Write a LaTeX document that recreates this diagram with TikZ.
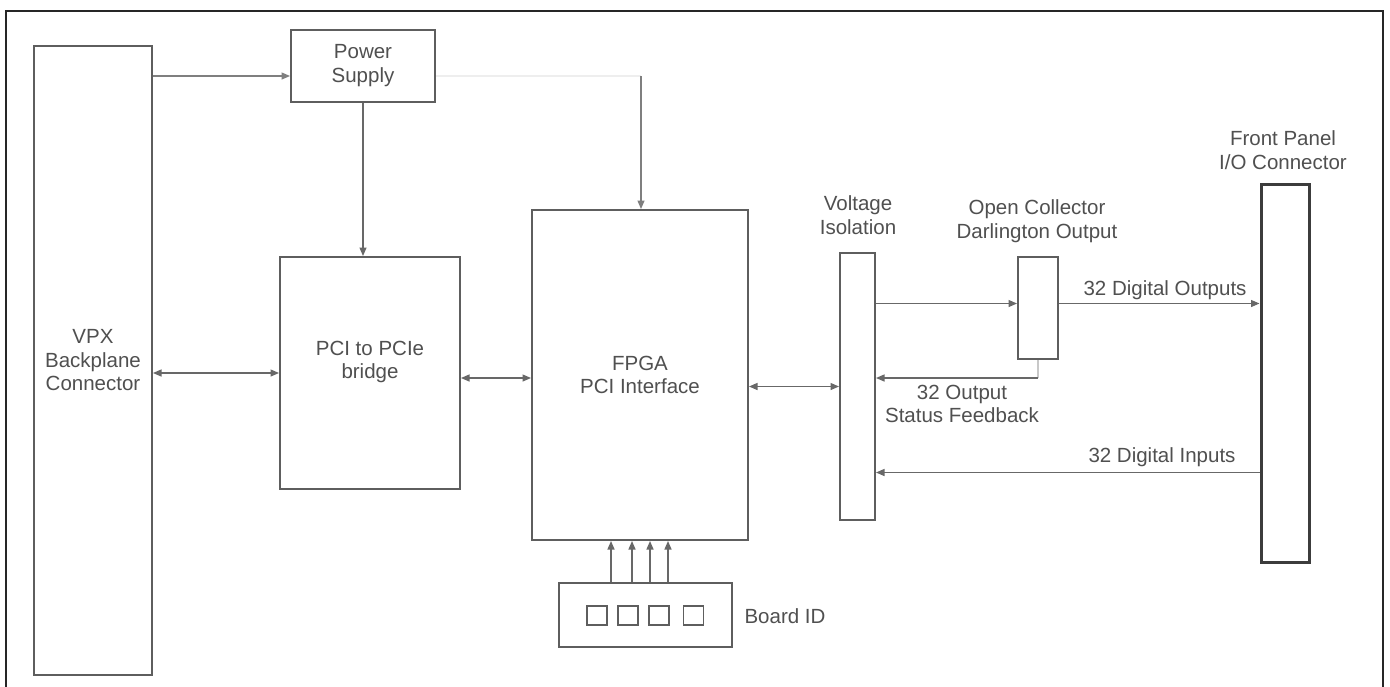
\documentclass[tikz,border=0pt]{standalone}
\usepackage{fontspec}
\setmainfont{Liberation Sans}
\usetikzlibrary{arrows.meta}
\definecolor{boxc}{HTML}{5E5E5E}
\definecolor{linec}{HTML}{686868}
\definecolor{txtc}{HTML}{505050}
\definecolor{framec}{HTML}{262626}
\definecolor{faintc}{HTML}{EEEEEE}
\definecolor{lightc}{HTML}{C8C8C8}
\begin{document}
\begin{tikzpicture}[x=1pt,y=-1pt,
  blk/.style={draw=boxc,line width=2pt,inner sep=0pt,fill=white},
  txt/.style={text=txtc,font=\fontsize{20.5}{23.5}\selectfont,align=center,inner sep=0pt},
  conn/.style={draw=linec,line width=1.3pt},
  arr/.style={conn,-{Triangle[length=8.5pt,width=7pt]}},
  darr/.style={conn,{Triangle[length=8.5pt,width=7pt]}-{Triangle[length=8.5pt,width=7pt]}},
  sq/.style={draw=boxc,line width=1.5pt,minimum width=20pt,minimum height=19pt,inner sep=0pt}]
\fill[white] (0,0) rectangle (1390,686);
\useasboundingbox (0,0) rectangle (1390,686);
\draw[framec,line width=2.5pt] (6,690) -- (6,11) -- (1383,11) -- (1383,690);

% blocks
\node[blk,txt,minimum width=118pt,minimum height=629pt] (vpx) at (93,360.5) {VPX\\Backplane\\Connector};
\node[blk,txt,minimum width=144pt,minimum height=72pt] (ps) at (363,65.5) {Power\\Supply};
\node[blk,minimum width=180pt,minimum height=232pt,label={[txt,yshift=11pt]center:PCI to PCIe\\bridge}] (bridge) at (370,373) {};
\node[blk,txt,minimum width=216pt,minimum height=330pt] (fpga) at (640,375) {FPGA\\PCI Interface};
\node[blk,minimum width=35pt,minimum height=267pt] (vi) at (857.5,386.5) {};
\node[blk,minimum width=40pt,minimum height=102pt] (oc) at (1038,308) {};
\node[blk,draw=framec!90,line width=3pt,minimum width=48pt,minimum height=378pt] (fp) at (1285,373) {};
\node[blk,minimum width=173pt,minimum height=64pt] (board) at (645.5,615) {};
\node[sq] (s1) at (597,615.5) {};
\node[sq] (s2) at (628,615.5) {};
\node[sq] (s3) at (659,615.5) {};
\node[sq] (s4) at (693.5,615.5) {};

% labels
\node[txt] (vil) at (858,215) {Voltage\\Isolation};
\node[txt] (ocl) at (1037,221) {Open Collector\\Darlington Output};
\node[txt] (fpl) at (1283,150) {Front Panel\\I/O Connector};
\node[txt] (bdl) at (785,616) {Board ID};
\node[txt] (dol) at (1165,290) {32 Digital Outputs};
\node[txt] (dil) at (1162,457) {32 Digital Inputs};
\node[txt] (fbl) at (962,404) {32 Output\\Status Feedback};

% helper rows
\coordinate (h76) at (0,76);
\coordinate (h378) at (0,378);
\coordinate (h303) at (0,303.5);
\coordinate (h472) at (0,472.5);
\coordinate (pscorner) at (641,76);

% connectors
\draw[arr,draw=linec!85] (vpx.east |- h76) -- (ps.west |- h76);
\draw[conn,draw=faintc] (ps.east |- h76) -- (pscorner);
\draw[arr,draw=linec!85] (pscorner) -- (pscorner |- fpga.north);
\draw[arr] (ps.south) -- (ps.south |- bridge.north);
\draw[darr] (vpx.east |- bridge.west) -- (bridge.west);
\draw[darr] (bridge.east |- h378) -- (fpga.west |- h378);
\draw[darr] (fpga.east |- vi.west) -- (vi.west);
\draw[arr] (vi.east |- h303) -- (oc.west |- h303);
\draw[arr] (oc.east |- h303) -- (fp.west |- h303);
\coordinate (fbk) at (oc.south |- h378);
\draw[conn,draw=lightc] (oc.south) -- (fbk);
\draw[arr] (fbk) -- (vi.east |- h378);
\draw[arr] (fp.west |- h472) -- (vi.east |- h472);
\foreach \bx/\nm in {611/b1,632/b2,650/b3,668/b4}{
  \coordinate (\nm) at (\bx,0);
  \draw[arr] (board.north -| \nm) -- (fpga.south -| \nm);
}
\end{tikzpicture}
\end{document}
